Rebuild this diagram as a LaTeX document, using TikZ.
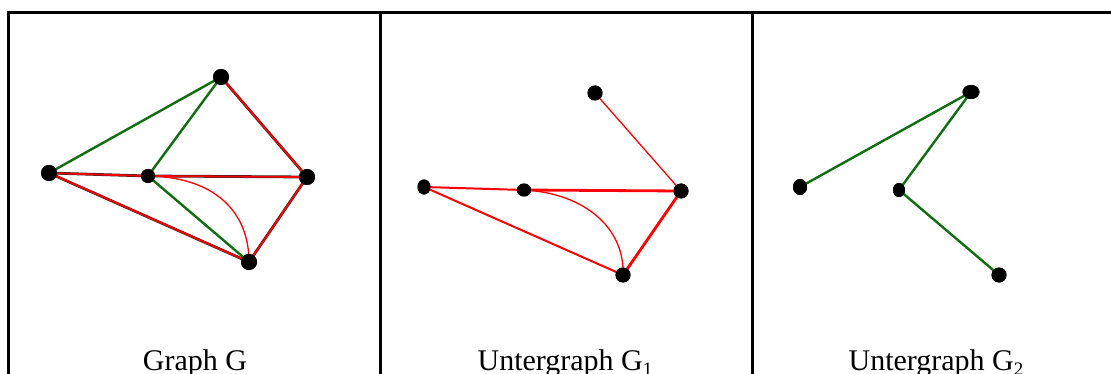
\documentclass[tikz,border=0pt]{standalone}
\usepackage{fontspec}
\setmainfont{Liberation Serif}
\usetikzlibrary{shapes.geometric}
\definecolor{gdark}{RGB}{16,110,16}
\begin{document}
\begin{tikzpicture}[x=1pt,y=-1pt,
  vtx/.style={ellipse, fill=black, inner sep=0pt},
  frame/.style={line width=3pt, black},
  gedge/.style={draw=gdark, line width=2.4pt},
  redd/.style={draw=red, line width=1.8pt, preaction={draw=black!85, line width=2.8pt}},
  rthin/.style={draw=red, line width=1.3pt},
  rmed/.style={draw=red, line width=2pt},
  rthick/.style={draw=red, line width=2.8pt},
  lbl/.style={anchor=base, inner sep=0pt, font=\fontsize{30}{36}\selectfont}]
\clip (0,0) rectangle (1111,374);
\fill[white] (0,0) rectangle (1111,374);
% frame
\draw[frame] (8.5,400) -- (8.5,12.5) -- (1130,12.5);
\draw[frame] (380.5,12.5) -- (380.5,400);
\draw[frame] (752,12.5) -- (752,400);

% ---------- Graph G ----------
\node[vtx, minimum width=16pt, minimum height=16pt] (A) at (49,173) {};
\node[vtx, minimum width=14pt, minimum height=14pt] (B) at (148,176) {};
\node[vtx, minimum width=16pt, minimum height=16pt] (T) at (221,77) {};
\node[vtx, minimum width=16pt, minimum height=16pt] (R) at (307,177) {};
\node[vtx, minimum width=16pt, minimum height=16pt] (D) at (249,262) {};
\draw[redd] (A.center) -- (B.center);
\draw[redd] (B.center) -- (R.center);
\draw[redd] (A.center) -- (D.center);
\draw[redd] (T.center) -- (R.center);
\draw[redd] (R.center) -- (D.center);
\draw[gedge] (A.center) -- (T.center);
\draw[gedge] (T.center) -- (B.center);
\draw[gedge] (B.center) -- (D.center);
\draw[rthin] (B.center) .. controls (215,177) and (249,212) .. (D.center);
\node[vtx, minimum width=16pt, minimum height=16pt] at (A) {};
\node[vtx, minimum width=14pt, minimum height=14pt] at (B) {};
\node[vtx, minimum width=16pt, minimum height=16pt] at (T) {};
\node[vtx, minimum width=16pt, minimum height=16pt] at (R) {};
\node[vtx, minimum width=16pt, minimum height=16pt] at (D) {};
\node[lbl] (lg) at (195,370) {Graph G};

% ---------- Untergraph G1 ----------
\node[vtx, minimum width=15pt, minimum height=15pt] (P) at (595,93) {};
\node[vtx, minimum width=13pt, minimum height=15pt] (L) at (424,187) {};
\node[vtx, minimum width=14pt, minimum height=13pt] (M) at (524,190) {};
\node[vtx, minimum width=15pt, minimum height=15pt] (S) at (681,191) {};
\node[vtx, minimum width=15pt, minimum height=15pt] (E) at (623,275) {};
\draw[rthin] (P) -- (S.center);
\draw[rmed] (L.center) -- (M.center);
\draw[rthick] (M.center) -- (S.center);
\draw[rmed] (L.center) -- (E.center);
\draw[rthick] (S.center) -- (E.center);
\draw[rthin] (M.center) .. controls (583,193) and (625,227) .. (E.center);
\node[vtx, minimum width=15pt, minimum height=15pt] at (P) {};
\node[vtx, minimum width=13pt, minimum height=15pt] at (L) {};
\node[vtx, minimum width=14pt, minimum height=13pt] at (M) {};
\node[vtx, minimum width=15pt, minimum height=15pt] at (S) {};
\node[vtx, minimum width=15pt, minimum height=15pt] at (E) {};
\node[lbl] (l1) at (565,370) {Untergraph G\raisebox{-5pt}{\fontsize{19}{19}\selectfont 1}};

% ---------- Untergraph G2 ----------
\node[vtx, minimum width=17pt, minimum height=14pt] (Q) at (971,92) {};
\node[vtx, minimum width=14pt, minimum height=16pt] (W) at (800,187) {};
\node[vtx, minimum width=12pt, minimum height=14pt] (V) at (899,190) {};
\node[vtx, minimum width=15pt, minimum height=15pt] (Z) at (999,275) {};
\draw[gedge] (W.center) -- (Q.center);
\draw[gedge] (Q.center) -- (V.center);
\draw[gedge] (V.center) -- (Z.center);
\node[vtx, minimum width=17pt, minimum height=14pt] at (Q) {};
\node[vtx, minimum width=14pt, minimum height=16pt] at (W) {};
\node[vtx, minimum width=12pt, minimum height=14pt] at (V) {};
\node[vtx, minimum width=15pt, minimum height=15pt] at (Z) {};
\node[lbl] (l2) at (936,370) {Untergraph G\raisebox{-5pt}{\fontsize{19}{19}\selectfont 2}};
\end{tikzpicture}
\end{document}
